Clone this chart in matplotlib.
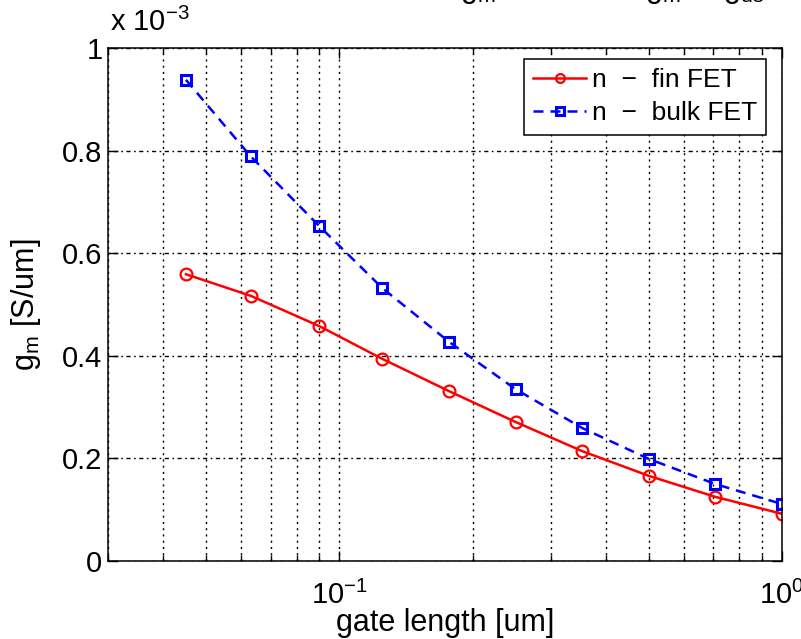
import matplotlib
matplotlib.use("Agg")
import matplotlib.pyplot as plt
from matplotlib.ticker import FixedLocator, FuncFormatter, LogLocator, NullFormatter

plt.rcParams["font.family"] = ["Liberation Sans", "DejaVu Sans"]
plt.rcParams["mathtext.fontset"] = "custom"
plt.rcParams["mathtext.rm"] = "Liberation Sans"
plt.rcParams["mathtext.it"] = "Liberation Sans"
plt.rcParams["mathtext.default"] = "regular"

# gate length [um]
gate_length = [0.045, 0.063, 0.09, 0.125, 0.177, 0.25, 0.354, 0.5, 0.707, 1.0]
# transconductance per width [S/um]
gm_fin = [0.559e-3, 0.517e-3, 0.458e-3, 0.394e-3, 0.331e-3, 0.271e-3,
          0.214e-3, 0.166e-3, 0.125e-3, 0.092e-3]
gm_bulk = [0.938e-3, 0.789e-3, 0.653e-3, 0.532e-3, 0.427e-3, 0.335e-3,
           0.259e-3, 0.199e-3, 0.150e-3, 0.111e-3]
series_labels = ["n  \u2212  fin FET", "n  \u2212  bulk FET"]
y_ticks = [0, 0.2e-3, 0.4e-3, 0.6e-3, 0.8e-3, 1.0e-3]

W, H = 801, 639
fig = plt.figure(figsize=(W / 100, H / 100), dpi=100)
ax_l, ax_r, ax_t, ax_b = 108, 782, 48, 561
ax = fig.add_axes([ax_l / W, 1 - ax_b / H, (ax_r - ax_l) / W, (ax_b - ax_t) / H])

ax.plot(gate_length, gm_fin, "-o", color="red", lw=1.8, ms=8.5,
        mfc="none", mec="red", mew=1.6, label=series_labels[0])
ax.plot(gate_length, gm_bulk, "--s", color="blue", lw=1.8, ms=7,
        mfc="none", mec="blue", mew=2.2, dashes=(4, 2.8), label=series_labels[1])

ax.set_xscale("log")
ax.set_xlim(0.03, 1.0)
ax.set_ylim(0, 1.0e-3)
ax.yaxis.set_major_locator(FixedLocator(y_ticks))
ax.yaxis.set_major_formatter(FuncFormatter(lambda v, p: f"{v * 1e3:g}"))
ax.xaxis.set_major_locator(LogLocator(base=10, numticks=10))
ax.xaxis.set_minor_locator(LogLocator(base=10, subs=range(2, 10), numticks=10))
ax.xaxis.set_minor_formatter(NullFormatter())

ax.grid(True, which="major", axis="y", color="black",
        linestyle=(0, (1.2, 2.5, 3, 2.5)), lw=1.0)
ax.grid(True, which="both", axis="x", color="black", linestyle=(0, (1.5, 3)), lw=1.0)

ax.tick_params(which="both", direction="in", top=True, right=True,
               labelsize=21, width=1.0)
ax.tick_params(axis="y", pad=4)
ax.tick_params(axis="x", pad=14)
ax.tick_params(which="major", length=7)
ax.tick_params(which="minor", length=4.5)
for s in ax.spines.values():
    s.set_linewidth(1.1)

ax.set_xlabel("gate length [um]", fontsize=22, labelpad=-1)
ax.set_ylabel("g$_{m}$ [S/um]", fontsize=22, labelpad=14)
ax.text(0.003, 1.021, "x 10$^{-3}$", transform=ax.transAxes, fontsize=21,
        ha="left", va="bottom")

leg = ax.legend(loc="upper right", bbox_to_anchor=((766 - ax_l) / (ax_r - ax_l),
                                                   (ax_b - 59) / (ax_b - ax_t)),
                fontsize=19, frameon=True, fancybox=False,
                edgecolor="black", framealpha=1, borderpad=0.35,
                handlelength=2.0, handletextpad=0.2, labelspacing=0.35,
                borderaxespad=0.0, markerscale=0.75)
leg.get_frame().set_linewidth(1.1)

fig.text(460 / W, 1 + 2.5 / H, "g$_{m}$   versus    g$_{m}$  /  g$_{ds}$",
         fontsize=22, ha="left", va="baseline")

fig.savefig("out.png", dpi=100)
